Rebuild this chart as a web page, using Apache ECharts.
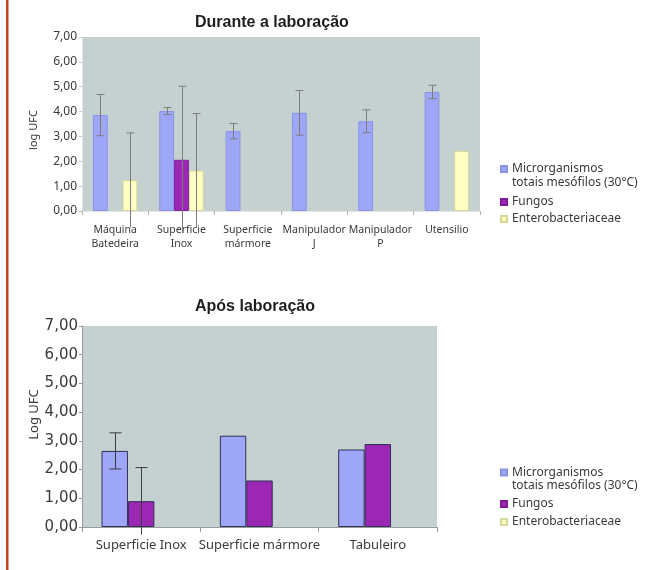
<!DOCTYPE html>
<html>
<head>
<meta charset="utf-8">
<script src="https://cdn.jsdelivr.net/npm/echarts@6/dist/echarts.min.js"></script>
<style>
  html, body { margin: 0; padding: 0; background: #ffffff; }
  #chart { width: 648px; height: 570px; }
</style>
</head>
<body>
<div id="chart"></div>
<script>
// Series names (shared by both panels)
const seriesNames = ['Microrganismos\ntotais mesófilos (30°C)', 'Fungos', 'Enterobacteriaceae'];

// "Durante a laboração" panel
const catsDuring = ['Máquina\nBatedeira', 'Superficie\nInox', 'Superficie\nmármore', 'Manipulador\nJ', 'Manipulador\nP', 'Utensilio'];
const mesDuring     = [3.86, 4.02, 3.21, 3.95, 3.61, 4.79];
const mesDuringErr  = [0.83, 0.14, 0.31, 0.90, 0.46, 0.27];
const fungDuring    = [null, 2.06, null, null, null, null];
const fungDuringErr = [null, 2.96, null, null, null, null];
const entDuring     = [1.24, 1.63, null, null, null, 2.42];
const entDuringErr  = [1.90, 2.29, null, null, null, null];

// "Após laboração" panel
const catsAfter = ['Superficie Inox', 'Superficie mármore', 'Tabuleiro'];
const mesAfter     = [2.65, 3.18, 2.70];
const mesAfterErr  = [0.63, null, null];
const fungAfter    = [0.90, 1.62, 2.89];
const fungAfterErr = [1.17, null, null];
const entAfter     = [null, null, null];

// Value axis ticks
const yMin = 0, yMax = 7, yStep = 1;

const CAT_GAP = 0.33;   // share of a category left empty between groups
const SLOTS = 3;        // bars per category
const colors = { mes: '#9ea7f7', fung: '#9b27b4', ent: '#ffffc4' };
const fmt = v => v.toFixed(2).replace('.', ',');

function barSeries(slot, values, gridIdx, border) {
  const fill = [colors.mes, colors.fung, colors.ent][slot];
  return {
    type: 'bar',
    name: seriesNames[slot],
    xAxisIndex: gridIdx, yAxisIndex: gridIdx,
    data: values,
    barGap: '0%',
    barCategoryGap: (CAT_GAP * 100) + '%',
    itemStyle: { color: fill, borderColor: border[slot], borderWidth: 1 },
    silent: true
  };
}

// Error bars drawn over the bars, centred on each bar's slot
function errorSeries(slot, values, errs, gridIdx, lineColor, capHalf) {
  const data = [];
  values.forEach((v, i) => {
    if (v != null && errs[i] != null) data.push([i, v, errs[i]]);
  });
  return {
    type: 'custom',
    name: seriesNames[slot],
    xAxisIndex: gridIdx, yAxisIndex: gridIdx,
    data: data,
    z: 5,
    silent: true,
    clip: false,
    renderItem: function (params, api) {
      const i = api.value(0), v = api.value(1), e = api.value(2);
      const band = api.size([1, 0])[0];
      const bw = band * (1 - CAT_GAP) / SLOTS;
      const off = (slot - (SLOTS - 1) / 2) * bw;
      const hi = api.coord([i, v + e]);
      const lo = api.coord([i, v - e]);
      const x = Math.round(hi[0] + off) + 0.5;
      const style = { stroke: lineColor, lineWidth: 1 };
      const kids = [
        { type: 'line', shape: { x1: x, y1: hi[1], x2: x, y2: lo[1] }, style: style },
        { type: 'line', shape: { x1: x - capHalf, y1: hi[1], x2: x + capHalf, y2: hi[1] }, style: style }
      ];
      if (v - e >= 0) {
        kids.push({ type: 'line', shape: { x1: x - capHalf, y1: lo[1], x2: x + capHalf, y2: lo[1] }, style: style });
      }
      return { type: 'group', children: kids };
    }
  };
}

const textColor = '#3a3a3a';
const baseFont = 'Noto Sans';

// The two-line entry gets an empty leading line so its swatch sits beside the first line
function legendPair(firstTop, restTop, lineH, gap, itemGap) {
  return [
    {
      data: [seriesNames[0]],
      left: 500, top: firstTop, padding: 0,
      itemWidth: 6, itemHeight: 6, icon: 'rect',
      selectedMode: false,
      formatter: name => '\n' + name,
      textStyle: { fontFamily: baseFont, fontSize: 12, color: textColor, lineHeight: lineH }
    },
    {
      data: [seriesNames[1], seriesNames[2]],
      left: 500, top: restTop, padding: 0, orient: 'vertical',
      itemWidth: 6, itemHeight: 6, icon: 'rect', itemGap: itemGap,
      selectedMode: false,
      textStyle: { fontFamily: baseFont, fontSize: 12, color: textColor, lineHeight: gap }
    }
  ];
}

const legends = [].concat(
  legendPair(148, 195, 14, 14, 3),
  legendPair(453, 497, 13, 14, 4)
);

const topBorder = [ '#8a92e8', '#83199c', '#d6d69a' ];
const bottomBorder = [ '#2f2f58', '#2f2f58', '#2f2f58' ];

const option = {
  backgroundColor: '#ffffff',
  animation: false,
  graphic: [
    { type: 'rect', left: 6, top: 0, shape: { width: 2.5, height: 570 }, style: { fill: '#c0461c' }, silent: true }
  ],
  title: [
    { text: 'Durante a laboração', left: 195, top: 15, padding: 0,
      textStyle: { fontFamily: 'Liberation Sans', fontWeight: 'bold', fontSize: 16, color: '#1e1e1e' } },
    { text: 'Após laboração', left: 195, top: 299, padding: 0,
      textStyle: { fontFamily: 'Liberation Sans', fontWeight: 'bold', fontSize: 16, color: '#1e1e1e' } }
  ],
  legend: legends,
  grid: [
    { left: 82, top: 37, width: 398, height: 174, show: true, backgroundColor: '#c5d1d0', borderWidth: 0 },
    { left: 82, top: 326, width: 355, height: 201, show: true, backgroundColor: '#c5d1d0', borderWidth: 0 }
  ],
  xAxis: [
    {
      type: 'category', gridIndex: 0, data: catsDuring,
      axisLine: { lineStyle: { color: '#e2e6e6', width: 1 } },
      axisTick: { show: true, length: 4, lineStyle: { color: '#aab3b3' } },
      axisLabel: { fontFamily: baseFont, fontSize: 10.5, color: textColor, lineHeight: 14, margin: 12, interval: 0 }
    },
    {
      type: 'category', gridIndex: 1, data: catsAfter,
      axisLine: { lineStyle: { color: '#9a9a9a', width: 1 } },
      axisTick: { show: true, length: 5, lineStyle: { color: '#9a9a9a' } },
      axisLabel: { fontFamily: baseFont, fontSize: 13, color: textColor, margin: 12, interval: 0 }
    }
  ],
  yAxis: [
    {
      type: 'value', gridIndex: 0, min: yMin, max: yMax, interval: yStep,
      name: 'log UFC', nameLocation: 'middle', nameGap: 43, nameMoveOverlap: false,
      nameTextStyle: { fontFamily: baseFont, fontSize: 11, color: textColor, padding: [0, 12, 0, 0] },
      axisLine: { show: true, lineStyle: { color: '#e2e6e6' } },
      axisTick: { show: true, length: 3, lineStyle: { color: '#c0c6c6' } },
      splitLine: { show: false },
      axisLabel: { fontFamily: baseFont, fontSize: 12, color: textColor, margin: 5, formatter: fmt }
    },
    {
      type: 'value', gridIndex: 1, min: yMin, max: yMax, interval: yStep,
      name: 'Log UFC', nameLocation: 'middle', nameGap: 41, nameMoveOverlap: false,
      nameTextStyle: { fontFamily: baseFont, fontSize: 13, color: textColor, padding: [0, 0, 0, 24] },
      axisLine: { show: true, lineStyle: { color: '#9a9a9a' } },
      axisTick: { show: true, length: 3, lineStyle: { color: '#9a9a9a' } },
      splitLine: { show: false },
      axisLabel: { fontFamily: 'DejaVu Sans', fontSize: 15, color: textColor, margin: 4, formatter: fmt }
    }
  ],
  series: [
    barSeries(0, mesDuring, 0, topBorder),
    barSeries(1, fungDuring, 0, topBorder),
    barSeries(2, entDuring, 0, topBorder),
    errorSeries(0, mesDuring, mesDuringErr, 0, '#7c7c7c', 4),
    errorSeries(1, fungDuring, fungDuringErr, 0, '#7c7c7c', 4),
    errorSeries(2, entDuring, entDuringErr, 0, '#7c7c7c', 4),

    barSeries(0, mesAfter, 1, bottomBorder),
    barSeries(1, fungAfter, 1, bottomBorder),
    barSeries(2, entAfter, 1, bottomBorder),
    errorSeries(0, mesAfter, mesAfterErr, 1, '#3c3c3c', 6),
    errorSeries(1, fungAfter, fungAfterErr, 1, '#3c3c3c', 6)
  ]
};

const chart = echarts.init(document.getElementById('chart'), null, { renderer: 'canvas' });
chart.setOption(option);
</script>
</body>
</html>
